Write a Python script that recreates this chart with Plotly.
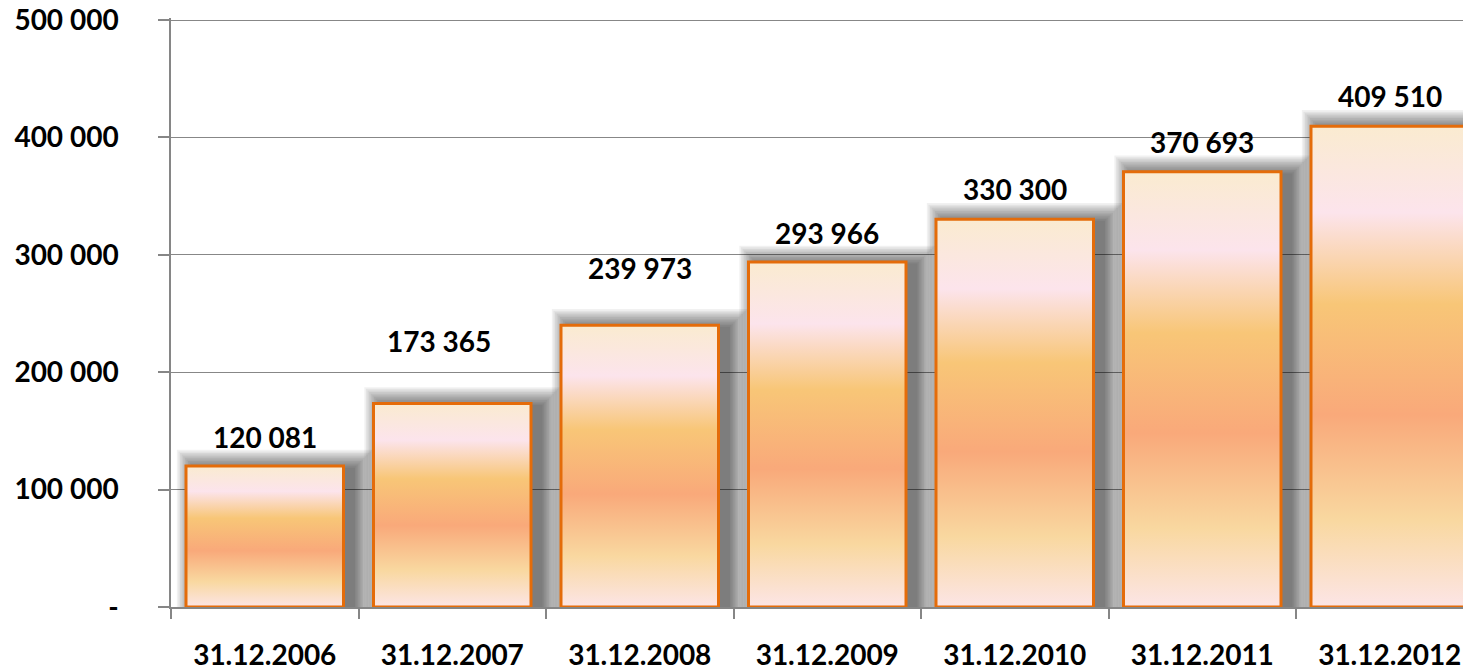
import plotly.graph_objects as go

# ---- data ----
dates = ["31.12.2006", "31.12.2007", "31.12.2008", "31.12.2009",
         "31.12.2010", "31.12.2011", "31.12.2012"]
values = [120081, 173365, 239973, 293966, 330300, 370693, 409510]
y_tick_vals = [0, 100000, 200000, 300000, 400000, 500000]
y_tick_text = ["-", "100 000", "200 000", "300 000", "400 000", "500 000"]

# ---- style ----
label_dx = [0, -13, 0, 0, 0, 0, 0]
label_dy = [29, 62, 57, 29, 30, 30, 30]
BAR_W = 0.84
ORANGE = "#E46C0A"
AXIS_GREY = "#868686"
FONT = "Lato"
PX_X = 1 / 187.5          # data units per pixel (x)
PX_Y = 500000 / 587.0     # data units per pixel (y)
TOP_PAD_PX = 2            # keep top gridline inside plot area
gradient = [
    [0.00, "#FCE5E6"],
    [0.18, "#F9D8A0"],
    [0.40, "#F9A97A"],
    [0.63, "#F8C677"],
    [0.82, "#FCE4EC"],
    [1.00, "#FAEBD0"],
]

idx = list(range(len(values)))
fig = go.Figure()

# soft drop shadow: stacked translucent bars
for k in range(1, 13):
    grow = 1.6 * k
    w = BAR_W + 2 * grow * PX_X
    fig.add_trace(go.Bar(
        x=idx,
        y=[v + (grow - 3) * PX_Y for v in values],
        width=w,
        offset=-w / 2 + 10 * PX_X,
        marker=dict(color="rgba(0,0,0,0.055)", line=dict(width=0)),
        hoverinfo="skip",
        showlegend=False,
    ))

# gradient-filled bars with orange outline
for i, v in zip(idx, values):
    xs = [i - BAR_W / 2, i + BAR_W / 2, i + BAR_W / 2, i - BAR_W / 2, i - BAR_W / 2]
    ys = [0, 0, v, v, 0]
    fig.add_trace(go.Scatter(
        x=xs, y=ys, mode="lines", fill="toself",
        line=dict(color=ORANGE, width=3),
        fillgradient=dict(type="vertical", colorscale=gradient, start=0, stop=v),
        hoverinfo="skip", showlegend=False,
    ))

# value labels
for i, v in zip(idx, values):
    fig.add_annotation(
        x=i, y=v, text=f"{v:,}".replace(",", " "),
        showarrow=False, yanchor="middle", xanchor="center",
        xshift=label_dx[i], yshift=label_dy[i],
        font=dict(family=FONT, size=28, color="black", weight="bold"),
    )

fig.update_layout(
    width=1463, height=664,
    margin=dict(l=163, r=0, t=12 - TOP_PAD_PX, b=65),
    paper_bgcolor="white", plot_bgcolor="white",
    barmode="overlay", showlegend=False,
    xaxis=dict(
        range=[-0.5, 6.5 - 12.5 / 187.5],
        tickmode="array", tickvals=idx, ticktext=dates, ticks="",
        showgrid=False, zeroline=False, automargin=False,
        ticklabeloverflow="allow",
        showline=True, linecolor=AXIS_GREY, linewidth=1.5,
        tickfont=dict(family=FONT, size=28, color="black", weight="bold"),
        ticklabelstandoff=23,
        minor=dict(tickmode="array", tickvals=[i - 0.5 for i in idx] + [6.5],
                   ticks="outside", ticklen=10, tickcolor=AXIS_GREY, tickwidth=1.5,
                   showgrid=False),
    ),
    yaxis=dict(
        range=[0, y_tick_vals[-1] + TOP_PAD_PX * PX_Y],
        tickmode="array", tickvals=y_tick_vals, ticktext=y_tick_text,
        ticks="outside", ticklen=11, tickcolor=AXIS_GREY, tickwidth=1.5,
        showgrid=True, gridcolor="#878787", gridwidth=1,
        zeroline=False, automargin=False, ticklabeloverflow="allow",
        showline=True, linecolor=AXIS_GREY, linewidth=1.5,
        tickfont=dict(family=FONT, size=28, color="black", weight="bold"),
        ticklabelstandoff=34,
    ),
)

fig.write_html("out.html")
